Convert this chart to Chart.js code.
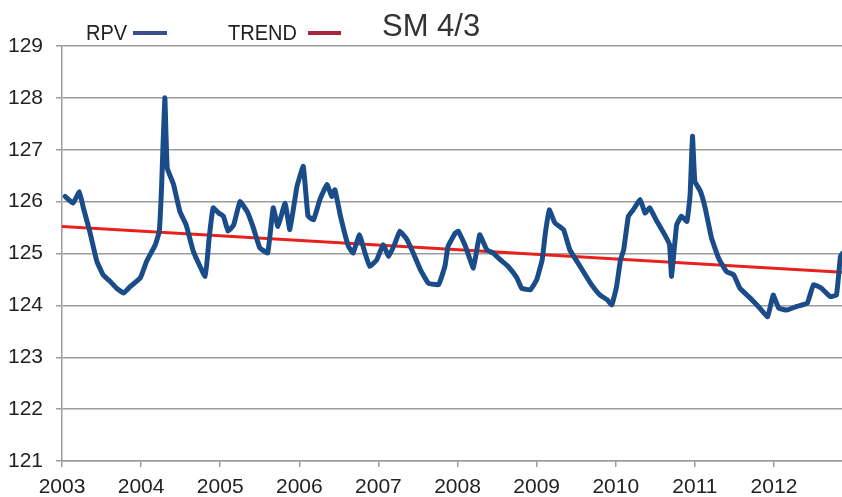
<!DOCTYPE html>
<html>
<head>
<meta charset="utf-8">
<script src="https://cdn.jsdelivr.net/npm/chart.js@4"></script>
<style>
  body { margin: 0; background: #fff; }
  #wrap { position: relative; width: 842px; height: 497px; font-family: "Liberation Sans", Arial, sans-serif; color: #222; }
  #grafico { position: absolute; left: 0; top: 0; }
  .leg { position: absolute; font-size: 20px; line-height: 20px; top: 22px; transform: scaleY(1.12); }
  .amostra { position: absolute; height: 4px; top: 31px; }
  #titulo { position: absolute; left: 382px; top: 10px; font-size: 31px; line-height: 31px; color: #333; }
</style>
</head>
<body>
<div id="wrap">
  <canvas id="grafico" width="842" height="497"></canvas>
  <div class="leg" style="left:86px">RPV</div>
  <div class="amostra" style="left:133px;width:34px;background:#3b4f8e"></div>
  <div class="leg" style="left:228px">TREND</div>
  <div class="amostra" style="left:308px;width:33px;background:#a8253d"></div>
  <div id="titulo">SM 4/3</div>
</div>
<script>
// RPV series (decimal year / value)
const anos = [
  2003.04, 2003.14, 2003.22, 2003.27, 2003.35, 2003.44, 2003.52, 2003.61, 2003.69, 2003.78,
  2003.86, 2003.99, 2004.07, 2004.18, 2004.23, 2004.26, 2004.30, 2004.33, 2004.41, 2004.49,
  2004.57, 2004.66, 2004.81, 2004.86, 2004.91, 2004.98, 2005.04, 2005.10, 2005.17, 2005.25,
  2005.34, 2005.42, 2005.50, 2005.60, 2005.67, 2005.73, 2005.82, 2005.88, 2005.97, 2006.05,
  2006.11, 2006.18, 2006.26, 2006.35, 2006.41, 2006.45, 2006.52, 2006.62, 2006.68, 2006.76,
  2006.83, 2006.89, 2006.98, 2007.06, 2007.13, 2007.21, 2007.27, 2007.36, 2007.44, 2007.53,
  2007.63, 2007.76, 2007.84, 2007.88, 2007.97, 2008.01, 2008.10, 2008.20, 2008.28, 2008.37,
  2008.45, 2008.54, 2008.64, 2008.75, 2008.81, 2008.92, 2009.00, 2009.07, 2009.11, 2009.16,
  2009.23, 2009.34, 2009.42, 2009.55, 2009.68, 2009.80, 2009.89, 2009.95, 2010.01, 2010.06,
  2010.10, 2010.16, 2010.22, 2010.31, 2010.37, 2010.43, 2010.52, 2010.62, 2010.68, 2010.705,
  2010.77, 2010.83, 2010.90, 2010.94, 2010.97, 2011.00, 2011.07, 2011.13, 2011.21, 2011.30,
  2011.40, 2011.49, 2011.57, 2011.70, 2011.82, 2011.92, 2011.99, 2012.06, 2012.16, 2012.29,
  2012.42, 2012.50, 2012.60, 2012.71, 2012.79, 2012.84, 2012.87
];
const rpv = [
  126.10, 125.97, 126.19, 125.88, 125.43, 124.85, 124.59, 124.46, 124.33, 124.24,
  124.36, 124.53, 124.85, 125.17, 125.43, 126.33, 128.00, 126.65, 126.33, 125.81,
  125.55, 125.04, 124.56, 125.30, 125.88, 125.78, 125.72, 125.43, 125.55, 126.00,
  125.81, 125.49, 125.11, 125.01, 125.88, 125.52, 125.97, 125.46, 126.29, 126.68,
  125.72, 125.65, 126.04, 126.33, 126.10, 126.23, 125.72, 125.14, 125.01, 125.36,
  125.01, 124.75, 124.88, 125.17, 124.94, 125.20, 125.43, 125.27, 125.01, 124.69,
  124.43, 124.40, 124.75, 125.14, 125.39, 125.43, 125.14, 124.72, 125.36, 125.07,
  125.01, 124.88, 124.75, 124.53, 124.33, 124.30, 124.49, 124.88, 125.39, 125.84,
  125.59, 125.46, 125.07, 124.75, 124.43, 124.20, 124.11, 124.01, 124.36, 124.88,
  125.07, 125.72, 125.84, 126.04, 125.78, 125.88, 125.62, 125.36, 125.17, 124.56,
  125.55, 125.72, 125.62, 126.13, 127.26, 126.39, 126.20, 125.88, 125.30, 124.91,
  124.65, 124.59, 124.33, 124.14, 123.95, 123.78, 124.20, 123.95, 123.91, 123.98,
  124.04, 124.40, 124.33, 124.17, 124.20, 124.94, 125.01
];

// linear trend, start and end of the visible range
const anosTrend = [2003, 2012.86];
const trend = [125.52, 124.64];

const ticksY = [121, 122, 123, 124, 125, 126, 127, 128, 129];
const ticksX = [2003, 2004, 2005, 2006, 2007, 2008, 2009, 2010, 2011, 2012];

const fonte = { family: "'Liberation Sans', Arial, sans-serif", size: 21 };
const cinza = "#9c9c9c";

new Chart(document.getElementById("grafico"), {
  type: "line",
  data: {
    datasets: [
      {
        label: "RPV",
        data: anos.map((a, i) => ({ x: a, y: rpv[i] })),
        borderColor: "#1b4c8a",
        borderWidth: 5,
        pointRadius: 0,
        tension: 0.1,
        borderJoinStyle: "round",
        borderCapStyle: "round",
      },
      {
        label: "TREND",
        data: anosTrend.map((a, i) => ({ x: a, y: trend[i] })),
        borderColor: "#e8211c",
        borderWidth: 3,
        pointRadius: 0,
      },
    ],
  },
  options: {
    responsive: false,
    animation: false,
    layout: { padding: { top: 46, left: 0, right: 0, bottom: 0 } },
    plugins: { legend: { display: false }, tooltip: { enabled: false } },
    scales: {
      x: {
        type: "linear",
        min: 2003,
        max: 2012.86,
        afterBuildTicks: (s) => { s.ticks = ticksX.map((v) => ({ value: v })); },
        afterFit: (s) => { s.height = 36; },
        ticks: { color: "#222", font: fonte, padding: 8, maxRotation: 0, autoSkip: false, callback: (v) => String(v) },
        grid: { drawOnChartArea: false, drawTicks: true, tickLength: 6, color: cinza, lineWidth: 1.5 },
        border: { color: cinza, width: 1.5 },
      },
      y: {
        min: 121,
        max: 129,
        afterBuildTicks: (s) => { s.ticks = ticksY.map((v) => ({ value: v })); },
        afterFit: (s) => { s.width = 62; },
        ticks: { color: "#222", font: fonte, padding: 13 },
        grid: { color: cinza, lineWidth: 1.5, tickLength: 6 },
        border: { color: cinza, width: 1.5 },
      },
    },
  },
});
</script>
</body>
</html>
